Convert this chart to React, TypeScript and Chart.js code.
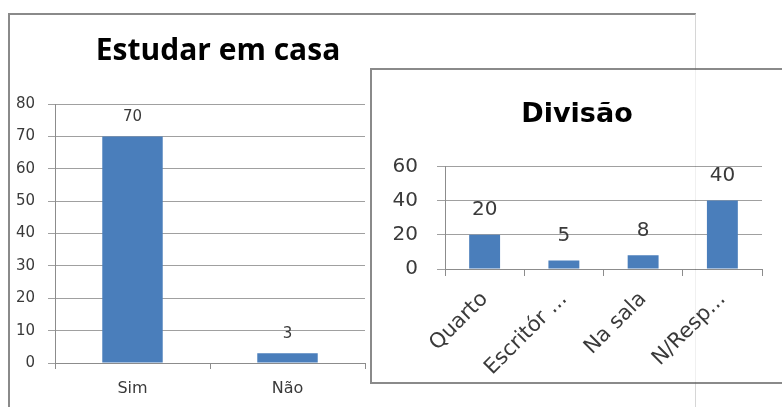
import React, { useEffect, useRef } from "react";
import { Chart, registerables } from "chart.js";

Chart.register(...registerables);

const homeTitle = "Estudar em casa";
const homeCategories = ["Sim", "Não"];
const homeValues = [70, 3];

const roomTitle = "Divisão";
const roomCategories = ["Quarto", "Escritór ...", "Na sala", "N/Resp..."];
const roomValues = [20, 5, 8, 40];

const BAR = "#4a7ebb";
const TEXT = "#3a3a3a";
const GRID = "#a0a0a0";
const AXIS = "#8c8c8c";
const FONT = "'DejaVu Sans'";

const valueLabels = {
  id: "valueLabels",
  afterDatasetsDraw(chart: any, _args: any, opts: any) {
    const ctx = chart.ctx;
    const meta = chart.getDatasetMeta(0);
    const data = chart.data.datasets[0].data;
    ctx.save();
    ctx.font = `${opts.size}px ${FONT}`;
    ctx.fillStyle = opts.color;
    ctx.textAlign = "center";
    ctx.textBaseline = "middle";
    meta.data.forEach((bar: any, i: number) => {
      ctx.fillText(String(data[i]), bar.x, bar.y - opts.offset);
    });
    ctx.restore();
  },
};

function useChart(ref: React.RefObject<HTMLCanvasElement | null>, make: () => any) {
  useEffect(() => {
    if (!ref.current) return;
    const chart = new Chart(ref.current, make());
    return () => chart.destroy();
  }, []);
}

// an empty right-hand axis that only reserves room, so the title stays centred on the whole canvas
function spacerAxis(width: number) {
  return {
    position: "right",
    display: true,
    grid: { display: false, drawTicks: false },
    border: { display: false },
    ticks: { display: false },
    afterFit: (s: any) => {
      s.width = width;
    },
  };
}

export default function App() {
  const leftRef = useRef<HTMLCanvasElement | null>(null);
  const rightRef = useRef<HTMLCanvasElement | null>(null);

  useEffect(() => {
    document.body.style.overflow = "hidden";
  }, []);

  useChart(leftRef, () => ({
    type: "bar",
    data: {
      labels: homeCategories,
      datasets: [
        {
          data: homeValues,
          backgroundColor: BAR,
          barPercentage: 0.39,
          categoryPercentage: 1,
          yAxisID: "y",
        },
      ],
    },
    plugins: [valueLabels],
    options: {
      responsive: false,
      animation: false,
      layout: { padding: 0 },
      plugins: {
        legend: { display: false },
        tooltip: { enabled: false },
        title: {
          display: true,
          text: homeTitle,
          color: "#000",
          font: { family: "'Open Sans'", size: 30, weight: "bold", lineHeight: 1.2 },
          padding: { top: 18, bottom: 35 },
        },
        valueLabels: { size: 15, color: TEXT, offset: 19 },
      },
      scales: {
        x: {
          grid: { drawOnChartArea: false, drawTicks: true, tickLength: 6, color: AXIS },
          border: { color: AXIS },
          ticks: { color: TEXT, font: { family: FONT, size: 16 }, padding: 10 },
          afterFit: (s: any) => {
            s.height = 44;
          },
        },
        y: {
          position: "left",
          min: 0,
          max: 80,
          ticks: { stepSize: 10, color: TEXT, font: { family: FONT, size: 15 }, padding: 13 },
          grid: { color: GRID, tickLength: 7 },
          border: { color: AXIS },
          afterFit: (s: any) => {
            s.width = 45;
          },
        },
        spacer: spacerAxis(61),
      },
    },
  }));

  useChart(rightRef, () => ({
    type: "bar",
    data: {
      labels: roomCategories,
      datasets: [
        {
          data: roomValues,
          backgroundColor: BAR,
          barPercentage: 0.39,
          categoryPercentage: 1,
          yAxisID: "y",
        },
      ],
    },
    plugins: [valueLabels],
    options: {
      responsive: false,
      animation: false,
      layout: { padding: 0 },
      plugins: {
        legend: { display: false },
        tooltip: { enabled: false },
        title: {
          display: true,
          text: roomTitle,
          color: "#000",
          font: { family: FONT, size: 27, weight: "bold", lineHeight: 1.2 },
          padding: { top: 29, bottom: 35 },
        },
        valueLabels: { size: 20, color: TEXT, offset: 25 },
      },
      scales: {
        x: {
          grid: { drawOnChartArea: false, drawTicks: true, tickLength: 7, color: AXIS },
          border: { color: AXIS },
          ticks: {
            color: TEXT,
            font: { family: FONT, size: 21 },
            padding: 11,
            minRotation: 45,
            maxRotation: 45,
            autoSkip: false,
          },
          afterFit: (s: any) => {
            s.height = 113;
          },
        },
        y: {
          position: "left",
          min: 0,
          max: 60,
          ticks: { stepSize: 20, color: TEXT, font: { family: FONT, size: 20 }, padding: 19 },
          grid: { color: GRID, tickLength: 8 },
          border: { color: AXIS },
          afterFit: (s: any) => {
            s.width = 73;
          },
        },
        spacer: spacerAxis(20),
      },
    },
  }));

  return (
    <div style={{ position: "absolute", left: 0, top: 0, width: 782, height: 407, background: "#fff" }}>
      <div
        style={{
          position: "absolute",
          left: 8,
          top: 13,
          width: 688,
          height: 394,
          boxSizing: "border-box",
          borderTop: "2px solid #8a8a8a",
          borderLeft: "2px solid #8a8a8a",
          borderRight: "1px solid #e4e4e4",
          background: "#fff",
        }}
      >
        <canvas ref={leftRef} width={416} height={392} style={{ display: "block", width: 416, height: 392 }} />
      </div>
      <div
        style={{
          position: "absolute",
          left: 370,
          top: 68,
          width: 412,
          height: 316,
          boxSizing: "border-box",
          borderTop: "2px solid #8a8a8a",
          borderLeft: "2px solid #8a8a8a",
          borderBottom: "2px solid #8a8a8a",
          background: "#fff",
        }}
      >
        <canvas ref={rightRef} width={410} height={312} style={{ display: "block", width: 410, height: 312 }} />
      </div>
      <div
        style={{
          position: "absolute",
          left: 695,
          top: 13,
          width: 1,
          height: 394,
          background: "rgba(0,0,0,0.06)",
        }}
      />
    </div>
  );
}
